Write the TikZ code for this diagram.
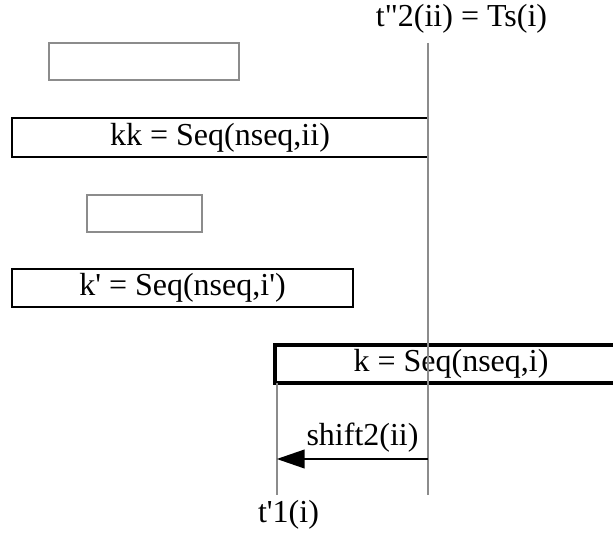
\documentclass[tikz,border=0pt]{standalone}
\usepackage{fontspec}
\setmainfont{Liberation Serif}
\usetikzlibrary{arrows.meta}
\definecolor{lgray}{HTML}{8C8C8C}
\tikzset{
  lbl/.style={font=\fontsize{24}{28}\selectfont, inner sep=0pt, anchor=base},
  graybox/.style={draw=lgray, line width=1.6pt, inner sep=0pt},
  blackbox/.style={draw=black, line width=1.6pt, inner sep=0pt, font=\fontsize{24}{28}\selectfont},
  vline/.style={draw=lgray, line width=1.6pt},
  shiftarrow/.style={draw=black, line width=1.6pt, -{Triangle[length=21pt,width=14pt]}}
}
\begin{document}
\begin{tikzpicture}[x=0.75pt,y=-0.75pt]
\useasboundingbox (0,0) rectangle (613,534);
% top label and main vertical line
\node[lbl] (T) at (461.5,27) {t\textquotedbl 2(ii) = Ts(i)};
\coordinate (Vtop) at (428,43);
\coordinate (Vbot) at (428,495);
% boxes
\node[graybox, minimum width=142.5pt, minimum height=27.75pt] (A) at (144,61.5) {};
\node[blackbox, minimum width=312pt, minimum height=29.25pt] (KK) at (220,137.5) {kk = Seq(nseq,ii)};
\node[graybox, minimum width=86.25pt, minimum height=27.75pt] (B) at (144.5,213.5) {};
\node[blackbox, minimum width=255.75pt, minimum height=28.5pt] (KP) at (182.5,288) {k\textquotesingle{} = Seq(nseq,i\textquotesingle)};
\node[inner sep=0pt, minimum width=264pt, minimum height=31.5pt, font=\fontsize{24}{28}\selectfont] (K) at (451,364) {k = Seq(nseq,i)};
\coordinate (R) at (613,0);
\draw[line width=3pt, line join=miter] ([yshift=-1.5pt]K.north west -| R) -- ([yshift=-1.5pt]K.north west) -- ([yshift=1.5pt]K.south west) -- ([yshift=1.5pt]K.south west -| R);
% vertical lines
\draw[vline] (Vtop) -- (Vbot);
\coordinate (V2top) at ([xshift=1.5pt,yshift=1.5pt]K.south west);
\coordinate (V2bot) at (V2top |- Vbot);
\draw[vline] (V2top) -- (V2bot);
% shift arrow
\coordinate (Sa) at (428,459);
\coordinate (Sb) at (V2top |- Sa);
\draw[shiftarrow] (Sa) -- (Sb);
\node[lbl] (S) at (362.5,445) {shift2(ii)};
\node[lbl] (B1) at (288.5,522) {t\textquotesingle 1(i)};
\end{tikzpicture}
\end{document}
